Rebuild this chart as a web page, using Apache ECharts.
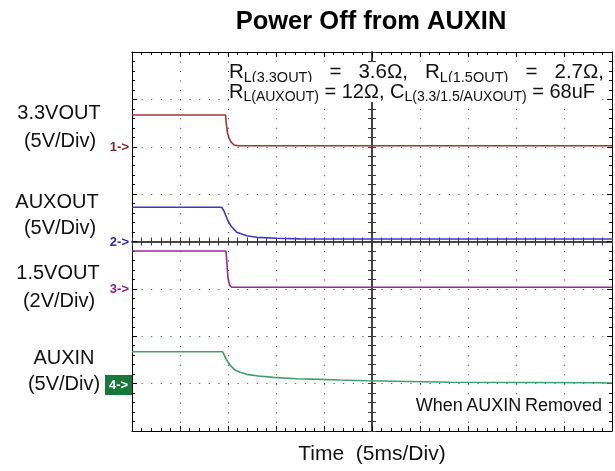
<!DOCTYPE html>
<html>
<head>
<meta charset="utf-8">
<script src="https://cdn.jsdelivr.net/npm/echarts@6/dist/echarts.min.js"></script>
<style>html,body{margin:0;padding:0;background:#fff;}#c{width:615px;height:471px;}</style>
</head>
<body>
<div id="c"></div>
<script>
// ---- data (time in ms, values in volts) ----
const ch1Time = [0, 9.74, 9.84, 9.95, 10.10, 10.31, 10.63, 11.04, 17.5, 27.9, 38.3, 50];
const ch1Volt = [3.35, 3.35, 2.30, 1.46, 0.93, 0.51, 0.19, 0.10, 0.10, 0.10, 0.10, 0.10];

const ch2Time = [0, 9.34, 9.58, 9.79, 10.0, 10.31, 10.91, 11.95, 12.99, 15.07, 17.5, 50];
const ch2Volt = [3.61, 3.61, 3.22, 2.69, 2.16, 1.64, 0.97, 0.61, 0.44, 0.34, 0.28, 0.26];

const ch3Time = [0, 9.79, 9.90, 10.0, 10.16, 10.39, 50];
const ch3Volt = [1.60, 1.60, 1.01, 0.46, 0.16, 0.07, 0.07];

const ch4Time = [0, 9.45, 9.86, 10.21, 10.73, 11.25, 11.95, 13.16, 14.72, 17.16, 19.58, 21.67, 24.48, 33.13, 48.75, 50];
const ch4Volt = [3.36, 3.36, 2.49, 1.96, 1.43, 1.19, 0.98, 0.80, 0.66, 0.52, 0.45, 0.38, 0.31, 0.14, 0.09, 0.06];

// channel ground offsets (divisions) and scales (V/div)
const chOffset = [2, 0, -1, -3];
const chScale = [5, 5, 2, 5];
const chNames = ['3.3VOUT', 'AUXOUT', '1.5VOUT', 'AUXIN'];
const chColors = ['#a23535', '#3a3ac6', '#962a96', '#3ea06c'];

const FONT = 'Liberation Sans, Arial, sans-serif';

function build(times, volts, i) {
  return times.map((t, k) => [t, chOffset[i] + volts[k] / chScale[i]]);
}
const seriesData = [
  build(ch1Time, ch1Volt, 0),
  build(ch2Time, ch2Volt, 1),
  build(ch3Time, ch3Volt, 2),
  build(ch4Time, ch4Volt, 3)
];

const chart = echarts.init(document.getElementById('c'), null, {renderer: 'canvas'});

function xAx(extra) {
  return Object.assign({
    type: 'value', min: 0, max: 50, interval: 5,
    axisLabel: {show: false},
    splitLine: {show: false},
    axisLine: {onZero: false, lineStyle: {color: '#000', width: 1}},
    axisTick: {show: true, inside: true, length: 5, lineStyle: {color: '#000', width: 1}},
    minorTick: {show: true, splitNumber: 5, length: 3, lineStyle: {color: '#000', width: 1}}
  }, extra);
}
function yAx(extra) {
  return Object.assign({
    type: 'value', min: -4, max: 4, interval: 1,
    axisLabel: {show: false},
    splitLine: {show: false},
    axisLine: {onZero: false, lineStyle: {color: '#000', width: 1}},
    axisTick: {show: true, inside: true, length: 5, lineStyle: {color: '#000', width: 1}},
    minorTick: {show: true, splitNumber: 5, length: 3, lineStyle: {color: '#000', width: 1}}
  }, extra);
}
const centerLine = {onZero: false, lineStyle: {color: '#3a3a3a', width: 1.6}};

const annRichL1 = {
  m: {fontFamily: FONT, fontSize: 20.5, lineHeight: 20, verticalAlign: 'top', fill: '#111'},
  s: {fontFamily: FONT, fontSize: 14.5, lineHeight: 14, verticalAlign: 'top', padding: [8, 0, 0, 0], fill: '#111'}
};
const annRichL2 = {
  m: {fontFamily: FONT, fontSize: 20, lineHeight: 20, verticalAlign: 'top', fill: '#111'},
  s: {fontFamily: FONT, fontSize: 14, lineHeight: 14, verticalAlign: 'top', padding: [8, 0, 0, 0], fill: '#111'}
};

const option = {
  backgroundColor: '#fff',
  animation: false,
  grid: {left: 132, top: 52, width: 480, height: 379, containLabel: false},
  xAxis: [
    xAx({position: 'bottom',
         splitLine: {show: true, lineStyle: {color: '#444', width: 1.2, type: [1, 8.48]}},
         name: 'Time  (5ms/Div)', nameLocation: 'middle', nameGap: 13,
         nameTextStyle: {fontFamily: FONT, fontSize: 21, color: '#111', verticalAlign: 'top'}}),
    xAx({position: 'top'}),
    xAx({position: 'bottom', offset: -189.5, axisLine: centerLine,
         axisTick: {show: true, inside: true, length: 4, lineStyle: {color: '#3a3a3a'}},
         minorTick: {show: true, splitNumber: 5, length: 4, lineStyle: {color: '#3a3a3a'}}}),
    xAx({position: 'bottom', offset: -189.5, axisLine: centerLine,
         axisTick: {show: true, inside: false, length: 4, lineStyle: {color: '#3a3a3a'}},
         minorTick: {show: true, splitNumber: 5, length: 4, lineStyle: {color: '#3a3a3a'}}})
  ],
  yAxis: [
    yAx({position: 'left',
         splitLine: {show: true, lineStyle: {color: '#444', width: 1.2, type: [1, 8.6]}}}),
    yAx({position: 'right'}),
    yAx({position: 'left', offset: -240, axisLine: centerLine,
         axisTick: {show: true, inside: true, length: 4, lineStyle: {color: '#3a3a3a'}},
         minorTick: {show: true, splitNumber: 5, length: 4, lineStyle: {color: '#3a3a3a'}}}),
    yAx({position: 'left', offset: -240, axisLine: centerLine,
         axisTick: {show: true, inside: false, length: 4, lineStyle: {color: '#3a3a3a'}},
         minorTick: {show: true, splitNumber: 5, length: 4, lineStyle: {color: '#3a3a3a'}}})
  ],
  series: seriesData.map((d, i) => ({
    name: chNames[i], type: 'line', xAxisIndex: 0, yAxisIndex: 0,
    data: d, showSymbol: false, symbol: 'none', smooth: false,
    lineStyle: {color: chColors[i], width: 1.6}, z: 5
  })),
  graphic: [
    {type: 'text', x: 371, y: 22, style: {text: 'Power Off from AUXIN', fontFamily: FONT, fontSize: 25.5, fontWeight: 'bold', fill: '#000', align: 'center', verticalAlign: 'middle'}},
    // left channel labels
    {type: 'text', x: 59, y: 113, style: {text: '3.3VOUT', fontFamily: FONT, fontSize: 20, fill: '#111', align: 'center', verticalAlign: 'middle'}},
    {type: 'text', x: 60, y: 141, style: {text: '(5V/Div)', fontFamily: FONT, fontSize: 20, fill: '#111', align: 'center', verticalAlign: 'middle'}},
    {type: 'text', x: 57, y: 202, style: {text: 'AUXOUT', fontFamily: FONT, fontSize: 20, fill: '#111', align: 'center', verticalAlign: 'middle'}},
    {type: 'text', x: 60, y: 228, style: {text: '(5V/Div)', fontFamily: FONT, fontSize: 20, fill: '#111', align: 'center', verticalAlign: 'middle'}},
    {type: 'text', x: 58, y: 273, style: {text: '1.5VOUT', fontFamily: FONT, fontSize: 20, fill: '#111', align: 'center', verticalAlign: 'middle'}},
    {type: 'text', x: 59, y: 301, style: {text: '(2V/Div)', fontFamily: FONT, fontSize: 20, fill: '#111', align: 'center', verticalAlign: 'middle'}},
    {type: 'text', x: 64, y: 358, style: {text: 'AUXIN', fontFamily: FONT, fontSize: 20, fill: '#111', align: 'center', verticalAlign: 'middle'}},
    {type: 'text', x: 64, y: 384, style: {text: '(5V/Div)', fontFamily: FONT, fontSize: 20, fill: '#111', align: 'center', verticalAlign: 'middle'}},
    // channel markers
    {type: 'text', x: 129, y: 147, style: {text: '1->', fontFamily: FONT, fontSize: 13, fontWeight: 'bold', fill: '#8e2222', align: 'right', verticalAlign: 'middle'}},
    {type: 'text', x: 129, y: 242, style: {text: '2->', fontFamily: FONT, fontSize: 13, fontWeight: 'bold', fill: '#2a2ab0', align: 'right', verticalAlign: 'middle'}},
    {type: 'text', x: 129, y: 289, style: {text: '3->', fontFamily: FONT, fontSize: 13, fontWeight: 'bold', fill: '#8a1a8a', align: 'right', verticalAlign: 'middle'}},
    {type: 'rect', shape: {x: 105, y: 375, width: 27, height: 20}, style: {fill: '#17783a'}},
    {type: 'text', x: 118.5, y: 385, style: {text: '4->', fontFamily: FONT, fontSize: 13, fontWeight: 'bold', fill: '#fff', align: 'center', verticalAlign: 'middle'}},
    // annotations
    {type: 'text', x: 229, y: 62, z: 10, style: {
      text: '{m|R}{s|L(3.3OUT)}{m|   =   3.6Ω,   R}{s|L(1.5OUT)}{m|   =   2.7Ω,}',
      align: 'left', verticalAlign: 'top', backgroundColor: '#fff', rich: annRichL1}},
    {type: 'text', x: 229, y: 82, z: 10, style: {
      text: '{m|R}{s|L(AUXOUT)}{m| = 12Ω, C}{s|L(3.3/1.5/AUXOUT)}{m| = 68uF}',
      align: 'left', verticalAlign: 'top', backgroundColor: '#fff', rich: annRichL2}},
    {type: 'text', x: 602, y: 406, z: 10, style: {text: 'When\u2009AUXIN\u2009Removed', fontFamily: FONT, fontSize: 18, fill: '#111', align: 'right', verticalAlign: 'middle', backgroundColor: '#fff'}}
  ]
};
chart.setOption(option);
</script>
</body>
</html>
